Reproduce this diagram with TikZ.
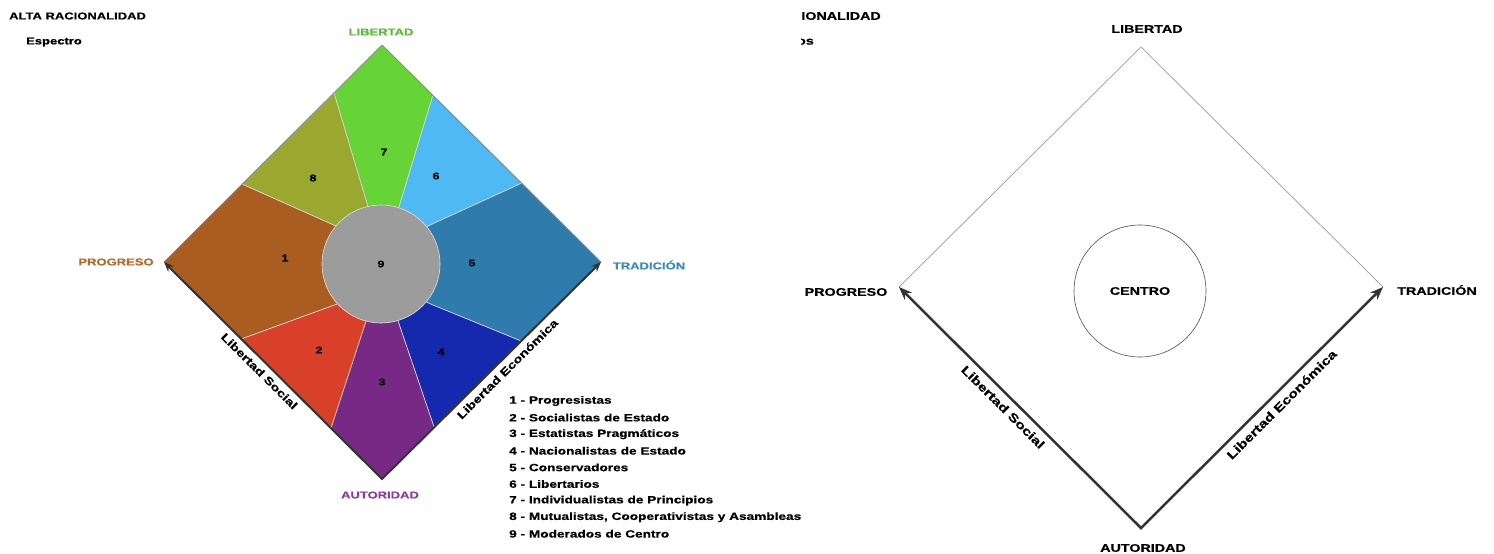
\documentclass[tikz,border=0pt]{standalone}
\usepackage{fontspec}
\setmainfont{Liberation Sans}[FakeStretch=1.3, BoldFeatures={FakeBold=0.6}]
\usetikzlibrary{arrows.meta}

\definecolor{sec1}{HTML}{A95D21}
\definecolor{sec2}{HTML}{D8402A}
\definecolor{sec3}{HTML}{762A86}
\definecolor{sec4}{HTML}{1529AE}
\definecolor{sec5}{HTML}{2F7CAC}
\definecolor{sec6}{HTML}{4FB9F4}
\definecolor{sec7}{HTML}{66D336}
\definecolor{sec8}{HTML}{9AA830}
\definecolor{sec9}{HTML}{9C9C9C}
\definecolor{libcol}{HTML}{5DBB3C}
\definecolor{progcol}{HTML}{B5692B}
\definecolor{tradcol}{HTML}{3B8BB5}
\definecolor{autcol}{HTML}{8B3C9F}
\definecolor{axiscol}{HTML}{333333}

\begin{document}
\begin{tikzpicture}[x=1pt, y=-1pt, inner sep=0pt,
    lbl/.style={font=\bfseries\fontsize{10}{12}\selectfont},
    big lbl/.style={font=\bfseries\fontsize{11}{13}\selectfont},
    num/.style={font=\bfseries\fontsize{9.5}{11}\selectfont},
    lgd/.style={font=\bfseries\fontsize{10.5}{12}\selectfont, anchor=west},
    side lbl/.style={font=\bfseries\fontsize{11}{13}\selectfont, inner sep=5pt},
    big side lbl/.style={font=\bfseries\fontsize{12}{14}\selectfont, inner sep=6pt},
    sector/.style={draw=white!70!gray, line width=0.6pt},
    rim/.style={draw=gray, line width=0.7pt},
    axis/.style={draw=axiscol, line width=2pt,
        {Stealth[length=10pt,width=8pt]}-{Stealth[length=10pt,width=8pt]}},
    big axis/.style={draw=axiscol, line width=2.5pt,
        {Stealth[length=13pt,width=10pt]}-{Stealth[length=13pt,width=10pt]}}]

    \useasboundingbox (0,0) rectangle (1494,554);

    % left diamond
    \coordinate (t1) at (382,45);
    \coordinate (l1) at (164,262);
    \coordinate (r1) at (601,262);
    \coordinate (b1) at (382,479);
    \coordinate (c1) at (381,264);

    \coordinate (e87) at (334,93);
    \coordinate (e76) at (433,95);
    \coordinate (e65) at (522,183);
    \coordinate (e45) at (521,341);
    \coordinate (e34) at (434,427);
    \coordinate (e23) at (331,428);
    \coordinate (e12) at (241,339);
    \coordinate (e81) at (242,184);

    \coordinate (k87) at (368,207);
    \coordinate (k76) at (399,207);
    \coordinate (k65) at (428,226);
    \coordinate (k45) at (428,303);
    \coordinate (k34) at (398,321);
    \coordinate (k23) at (366,321);
    \coordinate (k12) at (337,304);
    \coordinate (k81) at (336,226);

    \fill[sector, fill=sec7] (e87) -- (t1) -- (e76) -- (k76) -- (c1) -- (k87) -- cycle;
    \fill[sector, fill=sec6] (e76) -- (e65) -- (k65) -- (c1) -- (k76) -- cycle;
    \fill[sector, fill=sec5] (e65) -- (r1) -- (e45) -- (k45) -- (c1) -- (k65) -- cycle;
    \fill[sector, fill=sec4] (e45) -- (e34) -- (k34) -- (c1) -- (k45) -- cycle;
    \fill[sector, fill=sec3] (e34) -- (b1) -- (e23) -- (k23) -- (c1) -- (k34) -- cycle;
    \fill[sector, fill=sec2] (e23) -- (e12) -- (k12) -- (c1) -- (k23) -- cycle;
    \fill[sector, fill=sec1] (e12) -- (l1) -- (e81) -- (k81) -- (c1) -- (k12) -- cycle;
    \fill[sector, fill=sec8] (e81) -- (e87) -- (k87) -- (c1) -- (k81) -- cycle;

    \draw[rim] (l1) -- (t1) -- (r1);

    \node[num, circle, fill=sec9, draw=white!75!gray, line width=0.6pt, minimum size=118pt] (n9) at (c1) {9};
    \node[num] (n7) at (384,152) {7};
    \node[num] (n8) at (313,178) {8};
    \node[num] (n6) at (436,176) {6};
    \node[num] (n1) at (285,258) {1};
    \node[num] (n5) at (472,263) {5};
    \node[num] (n2) at (319,350) {2};
    \node[num] (n3) at (382,382) {3};
    \node[num] (n4) at (441,352) {4};

    \draw[axis] (l1) -- node[side lbl, pos=.47, sloped, below] {Libertad Social}
        (b1) -- node[side lbl, pos=.54, sloped, below] {Libertad Económica} (r1);

    \node[lbl, text=libcol] (lib1) at (381,32) {LIBERTAD};
    \node[lbl, text=progcol] (prog1) at (116,262) {PROGRESO};
    \node[lbl, text=tradcol] (trad1) at (649,265) {TRADICIÓN};
    \node[lbl, text=autcol] (aut1) at (380,495) {AUTORIDAD};

    \node[lbl, anchor=west] (alta1) at (9,16) {ALTA RACIONALIDAD};
    \node[lbl, anchor=west] (esp1) at (26,42) {Espectro};

    % legend
    \foreach \n/\t [count=\i from 0] in {1/Progresistas, 2/Socialistas de Estado,
        3/Estatistas Pragmáticos, 4/Nacionalistas de Estado, 5/Conservadores,
        6/Libertarios, 7/Individualistas de Principios,
        8/{Mutualistas, Cooperativistas y Asambleas}, 9/Moderados de Centro}
        \node[lgd] (lgd\n) at (509,{401+16.6*\i}) {\n\ - \t};

    % right diamond
    \coordinate (t2) at (1141,47);
    \coordinate (l2) at (899,287);
    \coordinate (r2) at (1383,287);
    \coordinate (b2) at (1141,528);

    \begin{scope}
        \clip (801,0) rectangle (900,60);
        \node[big lbl, anchor=east] (alta2) at (881,16) {ALTA RACIONALIDAD};
        \node[big lbl, anchor=east] (esp2) at (814,42) {Espectros};
    \end{scope}

    \draw[rim, draw=gray!80] (l2) -- (t2) -- (r2);
    \node[big lbl, circle, draw=black!70, line width=0.6pt, minimum size=132pt] (centro) at (1140,291) {CENTRO};

    \draw[big axis] (l2) -- node[big side lbl, pos=.464, sloped, below] {Libertad Social}
        (b2) -- node[big side lbl, pos=.547, sloped, below] {Libertad Económica} (r2);

    \node[big lbl] (lib2) at (1147,29) {LIBERTAD};
    \node[big lbl] (prog2) at (846,292) {PROGRESO};
    \node[big lbl] (trad2) at (1437,290) {TRADICIÓN};
    \node[big lbl] (aut2) at (1143,548) {AUTORIDAD};
\end{tikzpicture}
\end{document}
